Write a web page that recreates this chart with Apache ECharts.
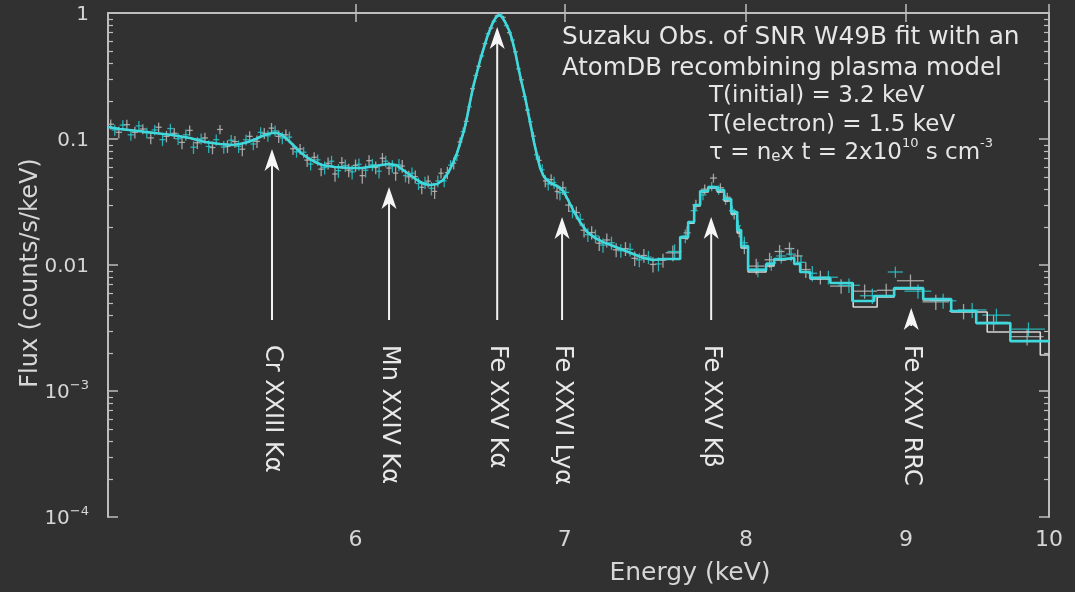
<!DOCTYPE html>
<html>
<head>
<meta charset="utf-8">
<script src="https://cdn.jsdelivr.net/npm/echarts@6/dist/echarts.min.js"></script>
<style>
  html, body { margin: 0; padding: 0; background: #313131; }
  #chart { width: 1075px; height: 592px; }
</style>
</head>
<body>
<div id="chart"></div>
<script>
// ---------------- axis ranges and ticks ----------------
const xRange = [5, 10];                 // keV (log scale)
const yRange = [1e-4, 1];               // counts/s/keV (log scale)
const xTicks = [6, 7, 8, 9, 10];
const yTicks = [1e-4, 1e-3, 0.01, 0.1, 1];
const yTickLabels = ['10^−4', '10^−3', '0.01', '0.1', '1'];

// ---------------- model spectrum: finely binned part (5.0 - 7.53 keV) ----------------
const modelLowE = [5.000,5.044,5.112,5.176,5.241,5.311,5.370,5.430,5.478,5.511,5.543,5.576,5.601,5.626,5.642,5.663,5.684,5.709,5.739,5.764,5.794,5.824,5.854,5.910,5.976,6.029,6.087,6.146,6.182,6.214,6.246,6.278,6.311,6.339,6.372,6.400,6.423,6.447,6.466,6.481,6.500,6.514,6.528,6.543,6.562,6.577,6.596,6.611,6.626,6.640,6.655,6.670,6.684,6.699,6.720,6.734,6.749,6.764,6.779,6.798,6.813,6.829,6.844,6.859,6.874,6.894,6.925,6.961,6.992,7.017,7.043,7.079,7.116,7.158,7.201,7.254,7.308,7.362,7.417,7.471,7.526];
const modelLowFlux = [0.1245,0.1201,0.1157,0.1116,0.1076,0.1018,0.0947,0.0913,0.0896,0.0913,0.0947,0.1000,0.1056,0.1096,0.1116,0.1116,0.1076,0.0982,0.0864,0.0774,0.0707,0.0657,0.0622,0.0600,0.0589,0.0589,0.0611,0.0633,0.0622,0.0568,0.0518,0.0473,0.0439,0.0431,0.0439,0.0473,0.0537,0.0645,0.0774,0.0930,0.1179,0.1495,0.1966,0.259,0.340,0.424,0.537,0.645,0.746,0.848,0.930,0.964,0.930,0.848,0.720,0.611,0.490,0.373,0.2886,0.2154,0.1637,0.1223,0.0930,0.0733,0.0589,0.0499,0.0448,0.0424,0.0387,0.0328,0.0273,0.02195,0.0183,0.01638,0.0152,0.01415,0.01315,0.01223,0.01136,0.01096,0.01116];

// ---------------- model spectrum: coarse bins above 7.53 keV ----------------
const cyanBinEdges = [7.526,7.621,7.666,7.700,7.734,7.780,7.832,7.872,7.913,7.948,7.971,8.012,8.119,8.167,8.228,8.289,8.325,8.387,8.512,8.651,8.792,8.922,9.115,9.305,9.478,9.719,10.0];
const cyanBinFlux  = [0.01116,0.0167,0.02195,0.02994,0.0387,0.0416,0.0394,0.0334,0.02634,0.01896,0.01415,0.00913,0.01018,0.01116,0.01136,0.01018,0.00880,0.00789,0.00720,0.00518,0.00568,0.00657,0.00537,0.00431,0.00346,0.00249];
const whiteBinEdges = [7.526,7.621,7.666,7.700,7.734,7.780,7.832,7.872,7.913,7.948,7.971,8.012,8.119,8.167,8.228,8.289,8.325,8.387,8.512,8.657,8.811,8.922,9.115,9.305,9.555,9.936,10.0];
const whiteBinFlux  = [0.01116,0.01638,0.0215,0.02939,0.0380,0.0409,0.0380,0.0322,0.0254,0.01795,0.01364,0.00880,0.00982,0.01096,0.01136,0.01018,0.00880,0.00774,0.00720,0.00464,0.00557,0.00645,0.00528,0.00424,0.00294,0.00193];

// ---------------- observed spectrum, detector 1 (grey crosses) ----------------
const grayE = [5.010,5.040,5.070,5.100,5.130,5.160,5.190,5.220,5.250,5.280,5.310,5.340,5.370,5.400,5.430,5.460,5.490,5.520,5.550,5.580,5.610,5.640,5.670,5.700,5.730,5.760,5.790,5.820,5.850,5.880,5.910,5.940,5.970,6.000,6.030,6.060,6.090,6.120,6.150,6.180,6.210,6.240,6.270,6.300,6.330,6.360,6.390,6.420,6.450,6.480,6.510,6.540,6.570,6.600,6.630,6.660,6.690,6.720,6.750,6.780,6.810,6.840,6.870,6.900,6.930,6.960,6.990,7.020,7.060,7.100,7.140,7.180,7.220,7.270,7.320,7.370,7.420,7.470,7.525,7.58,7.66,7.71,7.76,7.81,7.85,7.89,7.93,7.96,7.99,8.06,8.14,8.20,8.26,8.31,8.36,8.45,8.58,8.73,8.87,9.03,9.20,9.39,9.60,9.84];
const grayFlux = [0.131,0.113,0.130,0.113,0.120,0.102,0.124,0.105,0.111,0.094,0.117,0.0934,0.102,0.0856,0.119,0.0875,0.0954,0.083,0.105,0.0957,0.111,0.122,0.105,0.108,0.0837,0.0834,0.068,0.0716,0.0576,0.0642,0.0528,0.0649,0.0566,0.0618,0.0512,0.0673,0.0594,0.0704,0.0588,0.0536,0.061,0.0501,0.0503,0.0414,0.0463,0.0384,0.0535,0.0541,0.0644,0.0948,0.138,0.251,0.377,0.571,0.760,0.950,0.924,0.698,0.492,0.295,0.170,0.1055,0.0677,0.0465,0.0476,0.0383,0.041,0.0299,0.0261,0.0189,0.0181,0.0149,0.0158,0.0132,0.0135,0.0113,0.0119,0.0101,0.0109,0.0125,0.0180,0.0300,0.0400,0.0490,0.0410,0.0345,0.0255,0.0185,0.0140,0.0098,0.0110,0.0128,0.0135,0.0118,0.0092,0.0080,0.0068,0.0062,0.0063,0.0075,0.0051,0.0043,0.0035,0.0027];
const grayErr = [0.012,0.012,0.012,0.012,0.011,0.011,0.011,0.011,0.011,0.011,0.011,0.010,0.010,0.010,0.010,0.010,0.010,0.010,0.010,0.011,0.011,0.012,0.012,0.011,0.009,0.008,0.008,0.007,0.007,0.007,0.007,0.007,0.007,0.007,0.007,0.007,0.007,0.007,0.007,0.007,0.007,0.006,0.006,0.005,0.005,0.005,0.005,0.006,0.007,0.008,0.010,0.013,0.016,0.020,0.024,0.027,0.027,0.024,0.020,0.015,0.011,0.008,0.006,0.005,0.005,0.005,0.005,0.0035,0.003,0.0024,0.0022,0.002,0.002,0.0017,0.0017,0.0015,0.0015,0.0014,0.0014,0.0018,0.0022,0.003,0.0035,0.004,0.0035,0.003,0.0025,0.002,0.0018,0.0014,0.0015,0.0016,0.0016,0.0015,0.0013,0.001,0.0009,0.0008,0.0008,0.0009,0.0007,0.0006,0.0005,0.0004];
const grayHalf = [0.012,0.012,0.012,0.012,0.012,0.012,0.012,0.012,0.012,0.012,0.012,0.012,0.012,0.012,0.012,0.012,0.012,0.012,0.012,0.012,0.012,0.012,0.012,0.012,0.012,0.012,0.012,0.012,0.012,0.012,0.012,0.012,0.012,0.012,0.012,0.012,0.012,0.012,0.012,0.012,0.012,0.012,0.012,0.012,0.012,0.012,0.012,0.012,0.012,0.012,0.012,0.012,0.012,0.012,0.012,0.012,0.012,0.012,0.012,0.012,0.012,0.012,0.012,0.012,0.012,0.012,0.012,0.018,0.018,0.018,0.018,0.018,0.018,0.018,0.018,0.018,0.018,0.018,0.018,0.04,0.02,0.02,0.02,0.02,0.02,0.02,0.02,0.015,0.02,0.05,0.03,0.03,0.03,0.03,0.03,0.06,0.07,0.08,0.06,0.09,0.09,0.1,0.1,0.12];

// ---------------- observed spectrum, detector 2 (cyan crosses) ----------------
const cyanE = [5.025,5.055,5.085,5.115,5.145,5.175,5.205,5.235,5.265,5.295,5.325,5.355,5.385,5.415,5.445,5.475,5.505,5.535,5.565,5.595,5.625,5.655,5.685,5.715,5.745,5.775,5.805,5.835,5.865,5.895,5.925,5.955,5.985,6.015,6.045,6.075,6.105,6.135,6.165,6.195,6.225,6.255,6.285,6.315,6.345,6.375,6.405,6.435,6.465,6.495,6.525,6.555,6.585,6.615,6.645,6.675,6.705,6.735,6.765,6.795,6.825,6.855,6.885,6.915,6.945,6.975,7.005,7.040,7.080,7.120,7.160,7.200,7.245,7.295,7.345,7.395,7.445,7.500,7.59,7.65,7.70,7.75,7.80,7.84,7.88,7.92,7.955,7.99,8.07,8.15,8.21,8.27,8.33,8.40,8.50,8.63,8.78,8.93,9.08,9.25,9.45,9.62,9.85];
const cyanFlux = [0.118,0.129,0.108,0.127,0.112,0.118,0.0988,0.121,0.1005,0.108,0.0861,0.1004,0.0873,0.0987,0.0863,0.0978,0.0874,0.0986,0.0913,0.113,0.106,0.116,0.102,0.1035,0.0791,0.0786,0.0633,0.0683,0.0593,0.0666,0.0561,0.0616,0.0548,0.063,0.0565,0.0625,0.0555,0.0667,0.0609,0.0624,0.0512,0.0535,0.0443,0.0451,0.0406,0.0464,0.0465,0.062,0.0739,0.1143,0.180,0.319,0.456,0.685,0.858,0.971,0.796,0.611,0.360,0.217,0.137,0.0749,0.057,0.044,0.0452,0.0375,0.0377,0.0267,0.023,0.0174,0.0170,0.0144,0.0150,0.0130,0.0133,0.0110,0.01155,0.0102,0.0128,0.0170,0.0270,0.0360,0.0420,0.0395,0.0330,0.0270,0.0205,0.0150,0.0093,0.0104,0.0118,0.0122,0.0105,0.0086,0.0080,0.0069,0.0057,0.0088,0.0062,0.0052,0.0044,0.0040,0.0031];
const cyanErr = [0.012,0.012,0.011,0.012,0.011,0.011,0.011,0.011,0.011,0.011,0.010,0.010,0.010,0.010,0.010,0.010,0.010,0.010,0.010,0.011,0.011,0.012,0.011,0.011,0.008,0.008,0.007,0.007,0.007,0.007,0.007,0.007,0.007,0.007,0.007,0.007,0.007,0.007,0.007,0.007,0.006,0.006,0.005,0.005,0.005,0.005,0.005,0.006,0.007,0.009,0.011,0.014,0.018,0.022,0.026,0.028,0.025,0.021,0.016,0.012,0.009,0.007,0.006,0.005,0.005,0.005,0.004,0.0032,0.0026,0.0022,0.0021,0.0019,0.0018,0.0016,0.0016,0.0014,0.0014,0.0013,0.0018,0.0021,0.0028,0.0033,0.0036,0.0034,0.003,0.0026,0.0021,0.0018,0.0013,0.0014,0.0015,0.0015,0.0014,0.0012,0.001,0.0009,0.0008,0.0009,0.0008,0.0007,0.0006,0.0005,0.0004];
const cyanHalf = [0.012,0.012,0.012,0.012,0.012,0.012,0.012,0.012,0.012,0.012,0.012,0.012,0.012,0.012,0.012,0.012,0.012,0.012,0.012,0.012,0.012,0.012,0.012,0.012,0.012,0.012,0.012,0.012,0.012,0.012,0.012,0.012,0.012,0.012,0.012,0.012,0.012,0.012,0.012,0.012,0.012,0.012,0.012,0.012,0.012,0.012,0.012,0.012,0.012,0.012,0.012,0.012,0.012,0.012,0.012,0.012,0.012,0.012,0.012,0.012,0.012,0.012,0.012,0.012,0.012,0.012,0.018,0.018,0.018,0.018,0.018,0.018,0.018,0.018,0.018,0.018,0.018,0.018,0.04,0.02,0.02,0.02,0.02,0.02,0.02,0.02,0.015,0.02,0.05,0.03,0.03,0.03,0.03,0.03,0.06,0.07,0.08,0.05,0.09,0.09,0.1,0.1,0.12];

// ---------------- line identifications ----------------
const lineNames = ['Cr XXIII Kα', 'Mn XXIV Kα', 'Fe XXV Kα', 'Fe XXVI Lyα', 'Fe XXV Kβ', 'Fe XXV RRC'];
const lineE     = [5.642, 6.150, 6.660, 6.986, 7.797, 9.035];
const arrowTip  = [0.0833, 0.0416, 0.774, 0.0240, 0.0240, 0.00456];
const arrowTail = [0.00366, 0.00366, 0.00366, 0.00366, 0.00366, 0.00328];
const labelTop  = 0.00232;

// ---------------- build ----------------
const lg = Math.log10;
const FONT = 'DejaVu Sans';
const AXIS_COLOR = '#bdbdbd';
const TEXT_COLOR = '#d6d6d6';

function modelLine(edges, flux) {
  const pts = modelLowE.map((e, i) => [lg(e), lg(modelLowFlux[i])]);
  for (let i = 0; i < flux.length; i++) {
    pts.push([lg(edges[i]), lg(flux[i])]);
    pts.push([lg(edges[i + 1]), lg(flux[i])]);
  }
  return pts;
}

function crossSeries(E, F, err, half, color, z) {
  return {
    type: 'custom', z: z, silent: true,
    data: E.map((e, i) => [lg(e), lg(F[i]), e, F[i], err[i], half[i]]),
    encode: { x: 0, y: 1 },
    renderItem(params, api) {
      const e = api.value(2), f = api.value(3), d = api.value(4), h = api.value(5);
      const a = api.coord([lg(e - h), lg(f)]);
      const b = api.coord([lg(e + h), lg(f)]);
      const c = api.coord([lg(e), lg(f + d)]);
      const g = api.coord([lg(e), lg(f - d)]);
      const st = { stroke: color, lineWidth: 1.3 };
      return { type: 'group', children: [
        { type: 'line', shape: { x1: a[0], y1: a[1], x2: b[0], y2: b[1] }, style: st },
        { type: 'line', shape: { x1: c[0], y1: c[1], x2: g[0], y2: g[1] }, style: st }
      ] };
    }
  };
}

const yMinor = [];
for (let n = -4; n < 0; n++) for (let k = 2; k <= 9; k++) yMinor.push(lg(k * Math.pow(10, n)));

function yLabel(v) {
  const i = yTicks.findIndex(t => Math.abs(lg(t) - v) < 1e-6);
  if (i < 0) return '';
  const s = yTickLabels[i];
  if (s.indexOf('^') >= 0) {
    const p = s.split('^');
    return '{b|' + p[0] + '}{s|' + p[1] + '}';
  }
  return '{b|' + s + '}';
}

const xBase = {
  type: 'value', min: lg(xRange[0]), max: lg(xRange[1]),
  axisLine: { show: true, lineStyle: { color: AXIS_COLOR, width: 2 } },
  axisTick: { show: true, inside: true, length: 9, customValues: xTicks.map(lg), lineStyle: { color: AXIS_COLOR, width: 1.5 } },
  splitLine: { show: false }
};
const yMajor = {
  type: 'value', min: lg(yRange[0]), max: lg(yRange[1]), interval: 1,
  axisLine: { show: true, lineStyle: { color: AXIS_COLOR, width: 2 } },
  axisTick: { show: true, inside: true, length: 10, lineStyle: { color: AXIS_COLOR, width: 1.5 } },
  splitLine: { show: false }
};
const yMinorAxis = {
  type: 'value', min: lg(yRange[0]), max: lg(yRange[1]),
  axisLine: { show: false },
  axisTick: { show: true, inside: true, length: 5, customValues: yMinor, lineStyle: { color: AXIS_COLOR, width: 1.2 } },
  axisLabel: { show: false },
  splitLine: { show: false }
};

const option = {
  backgroundColor: '#313131',
  animation: false,
  textStyle: { fontFamily: FONT },
  grid: { left: 108, right: 26, top: 13, bottom: 75, containLabel: false, outerBoundsMode: 'none' },
  xAxis: [
    Object.assign({}, xBase, {
      position: 'bottom',
      axisLabel: {
        customValues: xTicks.map(lg),
        formatter: v => String(Math.round(Math.pow(10, v))),
        color: TEXT_COLOR, fontSize: 22, fontFamily: FONT, margin: 12
      },
      name: 'Energy (keV)', nameLocation: 'middle', nameGap: 44, nameMoveOverlap: false,
      nameTextStyle: { color: TEXT_COLOR, fontSize: 25, fontFamily: FONT, padding: [0, 0, 0, 223] }
    }),
    Object.assign({}, xBase, { position: 'top', axisLabel: { show: false } })
  ],
  yAxis: [
    Object.assign({}, yMajor, {
      position: 'left',
      axisLabel: {
        formatter: yLabel, color: TEXT_COLOR, fontSize: 20, fontFamily: FONT, margin: 19,
        rich: {
          b: { fontSize: 20, fontFamily: FONT, color: TEXT_COLOR, verticalAlign: 'bottom', lineHeight: 23 },
          s: { fontSize: 13, fontFamily: FONT, color: TEXT_COLOR, verticalAlign: 'top', lineHeight: 13 }
        }
      },
      name: 'Flux (counts/s/keV)', nameLocation: 'middle', nameGap: 65, nameMoveOverlap: false,
      nameTextStyle: { color: TEXT_COLOR, fontSize: 24, fontFamily: FONT, padding: [0, 16, 0, 0] }
    }),
    Object.assign({}, yMinorAxis, { position: 'left' }),
    Object.assign({}, yMajor, { position: 'right', axisLabel: { show: false } }),
    Object.assign({}, yMinorAxis, { position: 'right' })
  ],
  series: [
    crossSeries(grayE, grayFlux, grayErr, grayHalf, 'rgba(185,185,185,0.85)', 2),
    crossSeries(cyanE, cyanFlux, cyanErr, cyanHalf, 'rgba(40,200,205,0.85)', 3),
    {
      type: 'line', z: 4, silent: true, symbol: 'none', showSymbol: false,
      data: modelLine(whiteBinEdges, whiteBinFlux),
      lineStyle: { color: '#d6d6d6', width: 1.6 }
    },
    {
      type: 'line', z: 5, silent: true, symbol: 'none', showSymbol: false,
      data: modelLine(cyanBinEdges, cyanBinFlux),
      lineStyle: { color: '#3fd8dc', width: 2.6 }
    },
    {
      type: 'custom', z: 6, silent: true,
      data: lineE.map((e, i) => [lg(e), lg(arrowTip[i]), lg(arrowTail[i])]),
      encode: { x: 0, y: 1 },
      renderItem(params, api) {
        const i = params.dataIndex;
        const tip = api.coord([api.value(0), api.value(1)]);
        const tail = api.coord([api.value(0), api.value(2)]);
        const lab = api.coord([api.value(0), lg(labelTop)]);
        const x = tip[0], y = tip[1];
        const children = [];
        if (tail[1] > y + 16) {
          children.push({ type: 'line', shape: { x1: x, y1: tail[1], x2: x, y2: y + 14 },
            style: { stroke: '#f2f2f2', lineWidth: 2 } });
        }
        children.push({ type: 'polygon',
          shape: { points: [[x, y], [x + 7.5, y + 22], [x, y + 16], [x - 7.5, y + 22]] },
          style: { fill: '#f6f6f6' } });
        children.push({ type: 'text', x: x, y: lab[1], rotation: -Math.PI / 2,
          style: { text: lineNames[i], fill: '#e8e8e8', font: '24px "' + FONT + '"',
            textAlign: 'left', textVerticalAlign: 'middle', align: 'left', verticalAlign: 'middle' } });
        return { type: 'group', children: children };
      }
    }
  ],
  graphic: [
    { type: 'text', x: 562, y: 38, silent: true,
      style: { text: 'Suzaku Obs. of SNR W49B fit with an', fill: '#e6e6e6', font: '24.8px "' + FONT + '"', verticalAlign: 'middle', textVerticalAlign: 'middle' } },
    { type: 'text', x: 562, y: 69, silent: true,
      style: { text: 'AtomDB recombining plasma model', fill: '#e6e6e6', font: '24.4px "' + FONT + '"', verticalAlign: 'middle', textVerticalAlign: 'middle' } },
    { type: 'text', x: 709, y: 96, silent: true,
      style: { text: 'T(initial) = 3.2 keV', fill: '#e6e6e6', font: '23px "' + FONT + '"', verticalAlign: 'middle', textVerticalAlign: 'middle' } },
    { type: 'text', x: 709, y: 125, silent: true,
      style: { text: 'T(electron) = 1.5 keV', fill: '#e6e6e6', font: '23px "' + FONT + '"', verticalAlign: 'middle', textVerticalAlign: 'middle' } },
    { type: 'text', x: 709, y: 151, silent: true,
      style: {
        text: '{n|τ = n}{sub|e}{n|x t = 2x10}{sup|10}{n| s cm}{sup|-3}',
        fill: '#e6e6e6', verticalAlign: 'middle', textVerticalAlign: 'middle',
        rich: {
          n:   { fontSize: 23, fontFamily: FONT, fill: '#e6e6e6', verticalAlign: 'bottom', lineHeight: 28 },
          sub: { fontSize: 15, fontFamily: FONT, fill: '#e6e6e6', verticalAlign: 'bottom', lineHeight: 15 },
          sup: { fontSize: 13, fontFamily: FONT, fill: '#e6e6e6', verticalAlign: 'top', lineHeight: 13 }
        }
      } }
  ]
};

const chart = echarts.init(document.getElementById('chart'), null, { renderer: 'canvas' });
chart.setOption(option);
</script>
</body>
</html>
